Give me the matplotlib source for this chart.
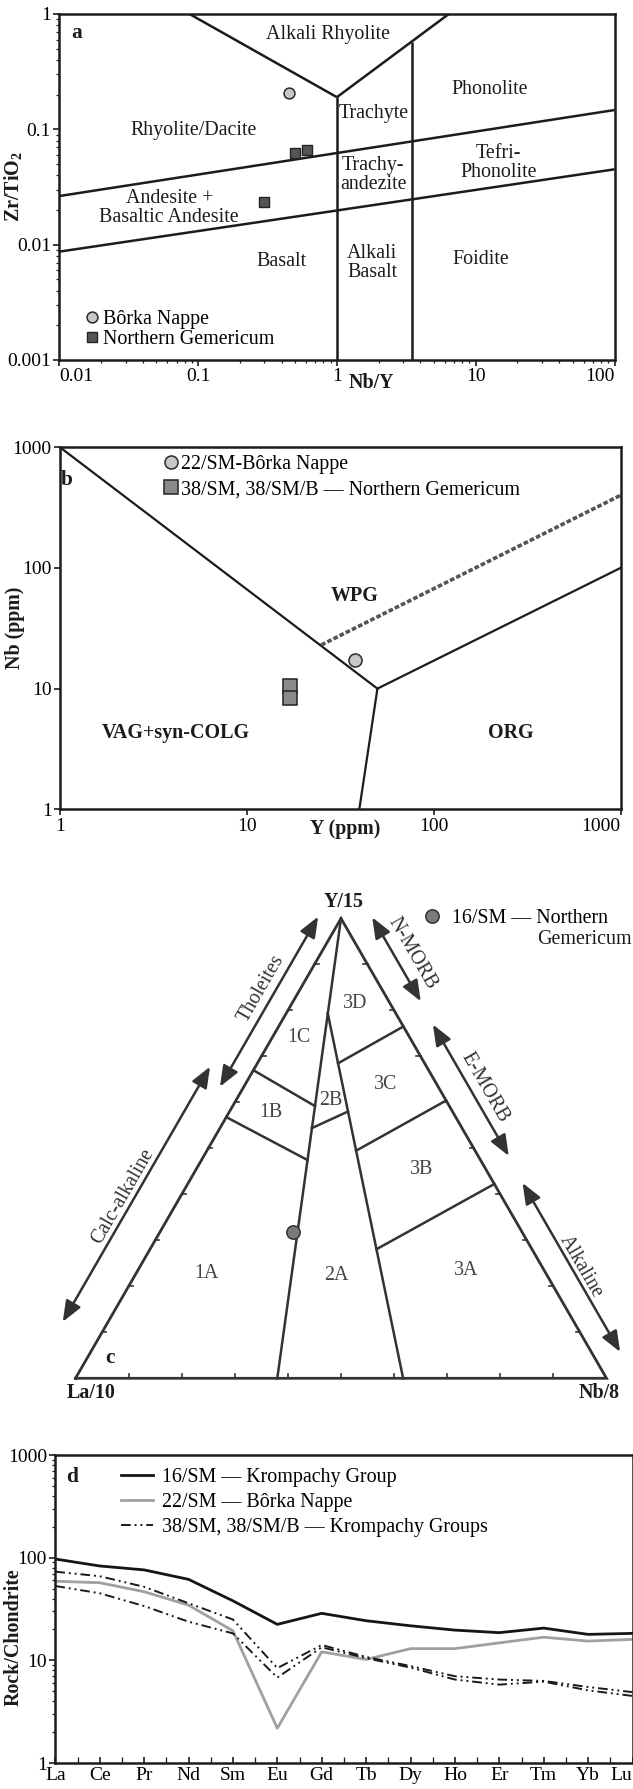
import numpy as np
import matplotlib
matplotlib.use("Agg")
import matplotlib.pyplot as plt
from matplotlib.lines import Line2D
from matplotlib.ticker import LogLocator, NullFormatter, FuncFormatter, FixedLocator

plt.rcParams['font.family'] = ['Liberation Serif', 'DejaVu Serif']
plt.rcParams['mathtext.fontset'] = 'custom'
plt.rcParams['mathtext.rm'] = 'Liberation Serif'
plt.rcParams['mathtext.bf'] = 'Liberation Serif:bold'
plt.rcParams['font.size'] = 14.4

INK = '#1c1c1c'
GREY_LINE = '#333333'
FS = 14.4

# ---------------- (a) Zr/TiO2 vs Nb/Y ----------------
a_borka_nby = [0.45]
a_borka_zrti = [0.208]
a_gem_nby = [0.50, 0.61, 0.30]
a_gem_zrti = [0.062, 0.0665, 0.0233]

a_boundaries = [
    ([0.0867, 1.0], [1.0, 0.19]),
    ([1.0, 6.4], [0.19, 1.0]),
    ([1.0, 1.0], [0.19, 0.001]),
    ([3.45, 3.45], [0.575, 0.001]),
    ([0.01, 100.0], [0.0264, 0.147]),
    ([0.01, 100.0], [0.0087, 0.045]),
]
a_fields = [
    ("Alkali Rhyolite", 0.86, 0.66),
    ("Phonolite", 12.6, 0.22),
    ("Trachyte", 1.85, 0.138),
    ("Rhyolite/Dacite", 0.093, 0.0986),
    ("Tefri-\nPhonolite", 14.6, 0.051),
    ("Trachy-\nandezite", 1.83, 0.040),
    ("Andesite +\nBasaltic Andesite", 0.062, 0.0207),
    ("Basalt", 0.40, 0.0071),
    ("Alkali\nBasalt", 1.8, 0.0069),
    ("Foidite", 10.8, 0.0075),
]
a_xticks = [0.01, 0.1, 1, 10, 100]
a_yticks = [0.001, 0.01, 0.1, 1]

# ---------------- (b) Nb vs Y ----------------
b_borka_y = [37.7]
b_borka_nb = [17.3]
b_gem_y = [17.0, 17.0]
b_gem_nb = [10.5, 8.4]
b_boundaries = [
    ([1.0, 50.0], [1000.0, 10.0]),
    ([50.0, 1000.0], [10.0, 100.0]),
    ([50.0, 40.0], [10.0, 1.0]),
]
b_orgwpg = ([25.0, 1000.0], [23.0, 400.0])
b_fields = [
    ("WPG", 37.9, 58.5),
    ("VAG+syn-COLG", 4.16, 4.29),
    ("ORG", 259.0, 4.29),
]
b_ticks = [1, 10, 100, 1000]

# ---------------- (c) La/10 - Y/15 - Nb/8 ----------------
# compositions given as (La/10, Y/15, Nb/8) fractions
c_16sm = (0.431, 0.319, 0.250)
c_boundaries = [
    [(0.62, 0.0, 0.38), (0.0, 1.0, 0.0)],
    [(0.383, 0.0, 0.617), (0.128, 0.794, 0.078)],
    [(0.33, 0.67, 0.0), (0.253, 0.592, 0.155)],
    [(0.432, 0.568, 0.0), (0.326, 0.475, 0.200)],
    [(0.283, 0.544, 0.173), (0.197, 0.580, 0.223)],
    [(0.163, 0.685, 0.152), (0.0, 0.765, 0.235)],
    [(0.224, 0.495, 0.281), (0.0, 0.604, 0.396)],
    [(0.293, 0.281, 0.427), (0.0, 0.4225, 0.5775)],
]
c_fields = [
    ("1C", 0.4209, 0.6414), ("3D", 0.5264, 0.7062), ("3C", 0.5838, 0.5524),
    ("1B", 0.3687, 0.5010), ("2B", 0.4812, 0.5228), ("3B", 0.6524, 0.3936),
    ("1A", 0.2458, 0.1977), ("2A", 0.4906, 0.1945), ("3A", 0.7360, 0.2026),
]
# arrows along triangle sides: side, start, end (fraction along side), offset
c_trends = [
    ("left", 0.6115, 0.9815, 0.039, "Tholeites", 0.8115, 0.0636),
    ("left", 0.0801, 0.6349, 0.074, "Calc-alkaline", 0.341, 0.0935),
    ("right", 0.7898, 0.9724, 0.052, "N-MORB", 0.875, 0.083),
    ("right", 0.4548, 0.7404, 0.050, "E-MORB", 0.589, 0.075),
    ("right", 0.0302, 0.3976, 0.047, "Alkaline", 0.206, 0.064),
]

# ---------------- (d) REE chondrite-normalised ----------------
ree = ['La', 'Ce', 'Pr', 'Nd', 'Sm', 'Eu', 'Gd', 'Tb', 'Dy', 'Ho', 'Er', 'Tm', 'Yb', 'Lu']
d_16sm = [97, 83, 76, 61.5, 38, 22.4, 28.7, 24.3, 21.7, 19.7, 18.6, 20.6, 17.9, 18.3]
d_22sm = [59, 57, 46.6, 34.5, 19.4, 2.18, 12.1, 10.2, 13.0, 13.0, 14.8, 16.8, 15.4, 16.0]
d_38sm = [73, 66, 52, 36, 25, 8.4, 14.1, 10.8, 8.8, 7.0, 6.5, 6.3, 5.5, 4.9]
d_38smb = [53, 45, 33.8, 23.8, 18.3, 6.8, 13.4, 10.5, 8.5, 6.5, 5.8, 6.2, 5.1, 4.5]
d_yticks = [1, 10, 100, 1000]


W, H = 633, 1789
fig = plt.figure(figsize=(W / 100, H / 100), dpi=100)
fig.patch.set_facecolor('white')


def add_px_axes(left, top, right, bottom):
    return fig.add_axes([left / W, 1 - bottom / H, (right - left) / W, (bottom - top) / H])


def fmt_num(v, pos=None):
    return f"{v:g}"


def style_log_axes(ax, xdir='out', ydir='out'):
    for s in ax.spines.values():
        s.set_linewidth(1.8)
        s.set_color(INK)
    ax.tick_params(which='major', length=4.5, width=1.2, labelsize=FS - 0.4, color=INK, pad=1.5)
    ax.tick_params(which='minor', length=2.5, width=0.9, color=INK)
    ax.tick_params(axis='x', which='both', direction=xdir, top=False)
    ax.tick_params(axis='y', which='both', direction=ydir, right=False)


# ====== panel a ======
axa = add_px_axes(59.3, 14, 614.5, 360)
axa.set_xscale('log')
axa.set_yscale('log')
axa.set_xlim(0.01, 100)
axa.set_ylim(0.001, 1)
for xs, ys in a_boundaries:
    axa.plot(xs, ys, color=INK, lw=1.8, solid_capstyle='butt')
axa.plot(a_borka_nby, a_borka_zrti, 'o', ms=7.8, mfc='#c8c8c8', mec='#2a2a2a', mew=1.1, ls='none')
axa.plot(a_gem_nby, a_gem_zrti, 's', ms=7.6, mfc='#555555', mec='#222222', mew=1.0, ls='none')
for label, x, y in a_fields:
    axa.text(x, y, label, ha='center', va='center', fontsize=FS, color=INK, linespacing=1.0)
axa.xaxis.set_major_locator(FixedLocator(a_xticks))
axa.yaxis.set_major_locator(FixedLocator(a_yticks))
axa.xaxis.set_minor_locator(LogLocator(base=10, subs=np.arange(2, 10), numticks=20))
axa.yaxis.set_minor_locator(LogLocator(base=10, subs=np.arange(2, 10), numticks=20))
axa.xaxis.set_major_formatter(FuncFormatter(fmt_num))
axa.yaxis.set_major_formatter(FuncFormatter(fmt_num))
axa.xaxis.set_minor_formatter(NullFormatter())
axa.yaxis.set_minor_formatter(NullFormatter())
style_log_axes(axa)
xt = axa.xaxis.get_major_ticks()
xt[0].label1.set_horizontalalignment('left')
xt[-1].label1.set_horizontalalignment('right')
axa.text(0.562, -0.067, "Nb/Y", transform=axa.transAxes, ha='center', va='center',
         fontsize=FS, fontweight='bold', color=INK)
axa.set_ylabel(r"$\mathbf{Zr/TiO_2}$", fontsize=FS, color=INK)
axa.yaxis.set_label_coords(-0.064, 0.5)
axa.text(0.031, 0.944, "a", transform=axa.transAxes, ha='center', va='center',
         fontsize=FS + 1, fontweight='bold', color=INK)
ha = [Line2D([], [], marker='o', ls='none', ms=7.8, mfc='#c8c8c8', mec='#2a2a2a', mew=1.1),
      Line2D([], [], marker='s', ls='none', ms=7.6, mfc='#555555', mec='#222222', mew=1.0)]
axa.legend(ha, ["Bôrka Nappe", "Northern Gemericum"], loc='upper left',
           bbox_to_anchor=(0.046, 0.145), frameon=False, fontsize=FS, handlelength=0.7,
           handletextpad=0.2, borderpad=0, borderaxespad=0, labelspacing=0.08)

# ====== panel b ======
axb = add_px_axes(60, 447.3, 620.5, 809.3)
axb.set_xscale('log')
axb.set_yscale('log')
axb.set_xlim(1, 1000)
axb.set_ylim(1, 1000)
for xs, ys in b_boundaries:
    axb.plot(xs, ys, color=INK, lw=1.6)
axb.plot(b_orgwpg[0], b_orgwpg[1], color='#555555', lw=2.6, dashes=(1.3, 0.6))
axb.plot(b_gem_y, b_gem_nb, 's', ms=9.6, mfc='#8a8a8a', mec='#222222', mew=1.1, ls='none')
axb.plot(b_borka_y, b_borka_nb, 'o', ms=9.4, mfc='#c8c8c8', mec='#2a2a2a', mew=1.1, ls='none')
for label, x, y in b_fields:
    axb.text(x, y, label, ha='center', va='center', fontsize=FS, fontweight='bold', color=INK)
axb.xaxis.set_major_locator(FixedLocator(b_ticks))
axb.yaxis.set_major_locator(FixedLocator(b_ticks))
axb.xaxis.set_minor_locator(FixedLocator([]))
axb.yaxis.set_minor_locator(FixedLocator([]))
axb.xaxis.set_major_formatter(FuncFormatter(fmt_num))
axb.yaxis.set_major_formatter(FuncFormatter(fmt_num))
style_log_axes(axb)
axb.xaxis.get_major_ticks()[-1].label1.set_horizontalalignment('right')
axb.text(0.508, -0.055, "Y (ppm)", transform=axb.transAxes, ha='center', va='center',
         fontsize=FS, fontweight='bold', color=INK)
axb.set_ylabel("Nb (ppm)", fontsize=FS, fontweight='bold', color=INK)
axb.yaxis.set_label_coords(-0.062, 0.5)
axb.text(0.002, 0.91, "b", transform=axb.transAxes, ha='left', va='center',
         fontsize=FS + 1, fontweight='bold', color=INK)
hb = [Line2D([], [], marker='o', ls='none', ms=9.4, mfc='#c8c8c8', mec='#2a2a2a', mew=1.1),
      Line2D([], [], marker='s', ls='none', ms=9.6, mfc='#8a8a8a', mec='#222222', mew=1.1)]
axb.legend(hb, ["22/SM-Bôrka Nappe", "38/SM, 38/SM/B — Northern Gemericum"], loc='upper left',
           bbox_to_anchor=(0.186, 0.978), frameon=False, fontsize=FS, handlelength=0.7,
           handletextpad=0.12, borderpad=0, borderaxespad=0, labelspacing=0.3)

# ====== panel c (ternary) ======
SCALE = 531.0
X0, YB = 75.5, 1378.3
ctop, cbot = 880, 1410
axc = add_px_axes(0, ctop, W, cbot)
axc.set_xlim(-X0 / SCALE, (W - X0) / SCALE)
axc.set_ylim((YB - cbot) / SCALE, (YB - ctop) / SCALE)
axc.axis('off')
R3 = np.sqrt(3) / 2


def tern(comp):
    la, y, nb = comp
    t = la + y + nb
    y, nb = y / t, nb / t
    return nb + y / 2, y * R3


def side_point(side, s, d):
    if side == 'left':
        return 0.5 * s - R3 * d, R3 * s + 0.5 * d
    return 1 - 0.5 * s + R3 * d, R3 * s + 0.5 * d


corners = [tern((1, 0, 0)), tern((0, 0, 1)), tern((0, 1, 0)), tern((1, 0, 0))]
axc.plot([p[0] for p in corners], [p[1] for p in corners], color=GREY_LINE, lw=2.0,
         solid_joinstyle='miter')
for seg in c_boundaries:
    pts = [tern(c) for c in seg]
    axc.plot([p[0] for p in pts], [p[1] for p in pts], color=GREY_LINE, lw=1.8)

# small graduation marks every 10 %
tk = 0.008
for f in np.arange(0.1, 0.95, 0.1):
    axc.plot([f, f], [0, tk], color=GREY_LINE, lw=1.2)
    lx, ly = 0.5 * f, R3 * f
    axc.plot([lx, lx + tk], [ly, ly], color=GREY_LINE, lw=1.2)
    rx, ry = 1 - 0.5 * f, R3 * f
    axc.plot([rx, rx - tk], [ry, ry], color=GREY_LINE, lw=1.2)

for side, s0, s1, d, label, ls_, ld in c_trends:
    p0 = side_point(side, s0, d)
    p1 = side_point(side, s1, d)
    axc.annotate('', xy=p1, xytext=p0,
                 arrowprops=dict(arrowstyle='<|-|>,head_length=0.9,head_width=0.36',
                                 mutation_scale=14, lw=1.8, color=GREY_LINE,
                                 shrinkA=0, shrinkB=0))
    lx, ly = side_point(side, ls_, ld)
    axc.text(lx, ly, label, rotation=60 if side == 'left' else -60, rotation_mode='anchor',
             ha='center', va='center', fontsize=FS, color=GREY_LINE)

for label, u, v in c_fields:
    axc.text(u, v, label, ha='center', va='center', fontsize=FS, color='#444444')

px, py = tern(c_16sm)
axc.plot([px], [py], 'o', ms=9.6, mfc='#7a7a7a', mec='#333333', mew=1.1)

axc.text(0.5043, 0.8976, "Y/15", ha='center', va='center', fontsize=FS, fontweight='bold', color=INK)
axc.text(0.0288, -0.0282, "La/10", ha='center', va='center', fontsize=FS, fontweight='bold', color=INK)
axc.text(0.9868, -0.0282, "Nb/8", ha='center', va='center', fontsize=FS, fontweight='bold', color=INK)
axc.text(0.0646, 0.0377, "c", ha='center', va='center', fontsize=FS + 1, fontweight='bold', color=INK)
hc = [Line2D([], [], marker='o', ls='none', ms=9.6, mfc='#7a7a7a', mec='#333333', mew=1.1)]
axc.legend(hc, ["16/SM — Northern"], loc='center left',
           bbox_to_anchor=(0.6525, 0.8650), bbox_transform=axc.transData,
           frameon=False, fontsize=FS, handlelength=1.0, handletextpad=0.5,
           borderpad=0, borderaxespad=0)
axc.text(0.8685, 0.8255, "Gemericum", ha='left', va='center', fontsize=FS, color=INK)

# ====== panel d ======
axd = add_px_axes(55.3, 1455, 632.5, 1763)
xi = np.arange(len(ree))
axd.plot(xi, d_16sm, color='#151515', lw=2.0, label="16/SM — Krompachy Group")
axd.plot(xi, d_22sm, color='#a0a0a0', lw=2.0, label="22/SM — Bôrka Nappe")
dd = (5, 2, 1, 2, 1, 2)
axd.plot(xi, d_38sm, color='#1a1a1a', lw=1.4, dashes=dd,
         label="38/SM, 38/SM/B — Krompachy Groups")
axd.plot(xi, d_38smb, color='#1a1a1a', lw=1.4, dashes=dd)
axd.set_yscale('log')
axd.set_ylim(1, 1000)
axd.set_xlim(0, len(ree) - 1)
axd.set_xticks(xi)
axd.set_xticklabels(ree)
axd.xaxis.set_minor_locator(FixedLocator(xi[:-1] + 0.5))
axd.yaxis.set_major_locator(FixedLocator(d_yticks))
axd.yaxis.set_minor_locator(LogLocator(base=10, subs=np.arange(2, 10), numticks=20))
axd.yaxis.set_major_formatter(FuncFormatter(fmt_num))
axd.yaxis.set_minor_formatter(NullFormatter())
style_log_axes(axd, xdir='in', ydir='out')
axd.tick_params(axis='x', which='both', length=4, pad=3)
axd.xaxis.get_major_ticks()[-1].label1.set_horizontalalignment('right')
axd.set_ylabel("Rock/Chondrite", fontsize=FS, fontweight='bold', color=INK)
axd.yaxis.set_label_coords(-0.054, 0.41)
axd.text(0.0196, 0.929, "d", transform=axd.transAxes, ha='left', va='center',
         fontsize=FS + 1, fontweight='bold', color=INK)
axd.legend(loc='upper left', bbox_to_anchor=(0.114, 0.958), frameon=False, fontsize=FS,
           handlelength=1.6, handletextpad=0.42, borderpad=0, borderaxespad=0,
           labelspacing=0.3)

fig.savefig("out.png", dpi=100, facecolor='white')
